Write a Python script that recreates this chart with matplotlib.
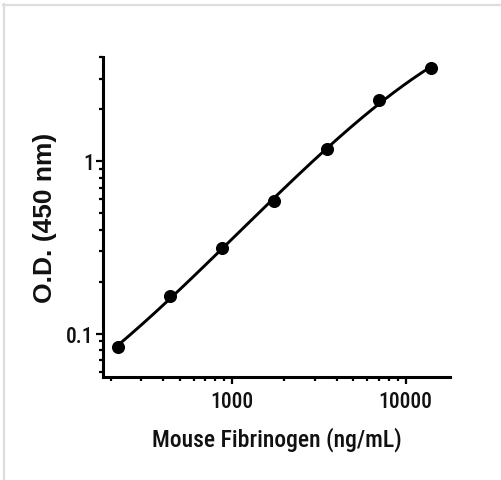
import numpy as np
import matplotlib
matplotlib.use("Agg")
import matplotlib.pyplot as plt
from matplotlib.lines import Line2D
from matplotlib.ticker import FixedLocator, FixedFormatter, NullFormatter

# Data
concentration = [218.75, 437.5, 875, 1750, 3500, 7000, 14000]   # ng/mL
od_450 = [0.084, 0.164, 0.313, 0.587, 1.166, 2.24, 3.45]

x_major = [1000, 10000]
x_major_labels = ["1000", "10000"]
y_major = [0.1, 1]
y_major_labels = ["0.1", "1"]

W, H = 502, 481
fig = plt.figure(figsize=(W / 100, H / 100), dpi=100)
fig.patch.set_facecolor("white")

ax = fig.add_axes([103 / W, 1 - 378 / H, (450 - 103) / W, (378 - 58) / H])
ax.set_xscale("log")
ax.set_yscale("log")
ax.set_xlim(180, 18000)
ax.set_ylim(0.056, 4.0)

# smooth fitted curve (cubic in log-log space)
lx = np.log10(concentration)
ly = np.log10(od_450)
coef = np.polyfit(lx, ly, 3)
xs = np.linspace(lx[0], lx[-1], 200)
ax.plot(10 ** xs, 10 ** np.polyval(coef, xs), color="black", lw=2.1,
        solid_capstyle="round", zorder=2)
ax.plot(concentration, od_450, "o", color="black", ms=8.4, zorder=3)

for s in ["top", "right"]:
    ax.spines[s].set_visible(False)
for s in ["left", "bottom"]:
    ax.spines[s].set_linewidth(2.2)
    ax.spines[s].set_color("black")

narrow = ["Roboto Condensed", "DejaVu Sans"]

ax.xaxis.set_major_locator(FixedLocator(x_major))
ax.xaxis.set_major_formatter(FixedFormatter(x_major_labels))
ax.xaxis.set_minor_locator(FixedLocator(
    [m * 10 ** e for e in (2, 3) for m in range(2, 10)]))
ax.xaxis.set_minor_formatter(NullFormatter())
ax.yaxis.set_major_locator(FixedLocator(y_major))
ax.yaxis.set_major_formatter(FixedFormatter(y_major_labels))
ax.yaxis.set_minor_locator(FixedLocator(
    [m * 10 ** e for e in (-2, -1, 0) for m in range(2, 10)]))
ax.yaxis.set_minor_formatter(NullFormatter())

ax.tick_params(which="major", direction="out", length=5.0, width=1.6,
               color="black", labelsize=15.5, labelcolor="#111111")
ax.tick_params(which="minor", direction="out", length=3.0, width=1.6,
               color="black")
ax.tick_params(axis="x", which="major", pad=4.5)
ax.tick_params(axis="y", which="major", pad=1.5)
for lab in ax.get_xticklabels() + ax.get_yticklabels():
    lab.set_family(narrow)
    lab.set_fontweight(500)

ax.set_xlabel("Mouse Fibrinogen (ng/mL)", family=narrow, fontsize=17,
              fontweight=500, color="#111111", va="baseline")
ax.xaxis.set_label_coords(0.5, (378 - 446.7) / 320)
ax.set_ylabel("O.D. (450 nm)", family="Liberation Sans", fontweight="bold",
              fontsize=19, color="#111111", va="center", ha="center")
ax.yaxis.set_label_coords((45.5 - 103) / 347, 0.5)

# light grey frame edges (top and left) of the reference image
fig.add_artist(Line2D([3 / W, 1], [1 - 6 / H, 1 - 6 / H], color="#dddddd",
                      lw=1.6, transform=fig.transFigure))
fig.add_artist(Line2D([4 / W, 4 / W], [0, 1 - 5 / H], color="#dddddd",
                      lw=1.6, transform=fig.transFigure))

fig.savefig("out.png", dpi=100, facecolor="white")
